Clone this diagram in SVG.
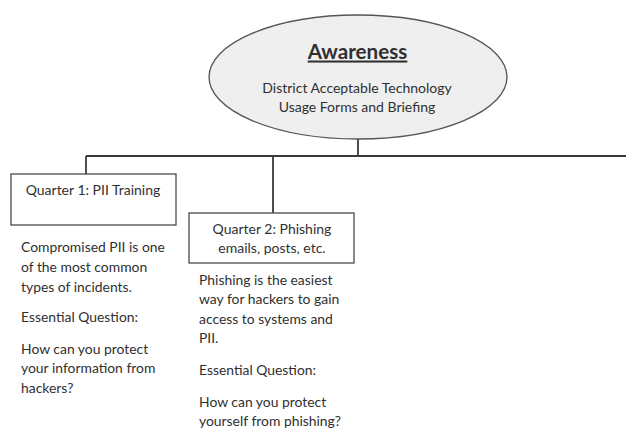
<svg xmlns="http://www.w3.org/2000/svg" width="626" height="431" viewBox="0 0 626 431">
  <style>
    text { font-family: "Lato", "Noto Sans", "Liberation Sans", sans-serif; fill: #303030; }
    .title { font-size: 20.6px; font-weight: bold; text-decoration: underline; }
    .sub { font-size: 14px; }
    .box { fill: #ffffff; stroke: #4a4a4a; stroke-width: 1.3; }
    .boxtext { font-size: 14px; }
    .body { font-size: 13.9px; }
    .wire { fill: none; stroke: #3a3a3a; stroke-width: 1.8; }
  </style>
  <rect width="626" height="431" fill="#ffffff"/>

  <!-- connectors: trunk, bus and drops -->
  <g id="connectors">
    <path class="wire" d="M358 139 V156"/>
    <path class="wire" d="M86 156 H626"/>
    <path class="wire" d="M86 156 V174"/>
    <path class="wire" d="M273 156 V213"/>
  </g>

  <g id="awareness">
    <ellipse cx="358" cy="77" rx="149" ry="62" fill="#efefef" stroke="#555555" stroke-width="1.3"/>
    <text class="title" x="357.5" y="58.5" text-anchor="middle">Awareness</text>
    <text class="sub" x="357" y="92.5" text-anchor="middle">District Acceptable Technology</text>
    <text class="sub" x="357" y="112" text-anchor="middle">Usage Forms and Briefing</text>
  </g>

  <g id="quarter1">
    <rect class="box" x="11" y="174" width="165" height="51"/>
    <text class="boxtext" x="93" y="195" text-anchor="middle">Quarter 1: PII Training</text>
    <text class="body" x="21" y="252.3">Compromised PII is one</text>
    <text class="body" x="21" y="272">of the most common</text>
    <text class="body" x="21" y="291.7">types of incidents.</text>
    <text class="body" x="21" y="322.3">Essential Question:</text>
    <text class="body" x="21" y="354">How can you protect</text>
    <text class="body" x="21" y="373.3">your information from</text>
    <text class="body" x="21" y="392.7">hackers?</text>
  </g>

  <g id="quarter2">
    <rect class="box" x="189" y="213" width="165" height="50"/>
    <text class="boxtext" x="272" y="234" text-anchor="middle">Quarter 2: Phishing</text>
    <text class="boxtext" x="272" y="253" text-anchor="middle">emails, posts, etc.</text>
    <text class="body" x="199" y="285">Phishing is the easiest</text>
    <text class="body" x="199" y="304.3">way for hackers to gain</text>
    <text class="body" x="199" y="324">access to systems and</text>
    <text class="body" x="199" y="343.3">PII.</text>
    <text class="body" x="199" y="375">Essential Question:</text>
    <text class="body" x="199" y="406.7">How can you protect</text>
    <text class="body" x="199" y="426">yourself from phishing?</text>
  </g>
</svg>
